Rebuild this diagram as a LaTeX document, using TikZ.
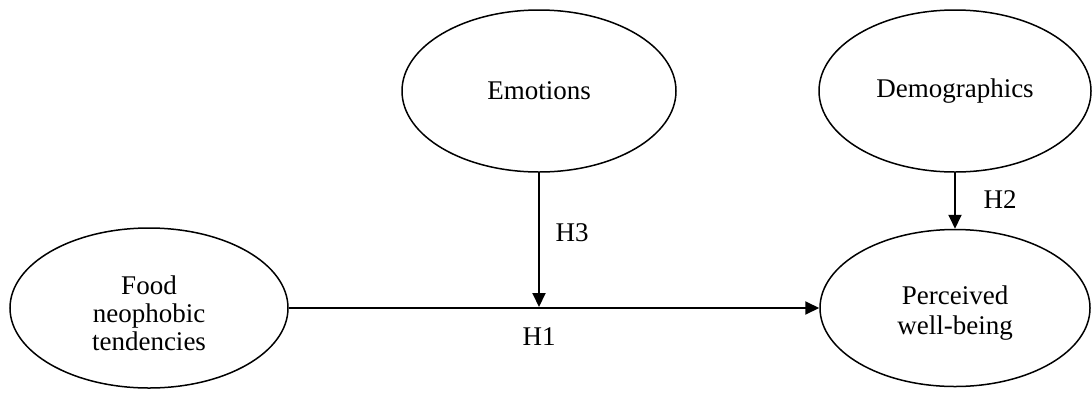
\documentclass[tikz,border=0pt]{standalone}
\usepackage{fontspec}
\setmainfont{Liberation Serif}
\usetikzlibrary{shapes.geometric,arrows.meta}
\newcommand{\lift}{\rule{0pt}{29pt}}
\begin{document}
\begin{tikzpicture}[x=1pt,y=-1pt,
  var/.style={ellipse,draw,line width=1.5pt,inner sep=0pt,align=center,font=\fontsize{27}{28}\selectfont},
  link/.style={line width=1.9pt,-{Triangle[length=14pt,width=13pt]}},
  lab/.style={font=\fontsize{27}{28}\selectfont,inner sep=0pt}]
\useasboundingbox (0,0) rectangle (1092,392);
\node[var,minimum width=274pt,minimum height=162pt] (emo) at (539,91) {Emotions};
\node[var,minimum width=272pt,minimum height=162pt] (demo) at (955,91) {Demographics};
\node[var,minimum width=278pt,minimum height=160pt] (food) at (149,308) {\lift Food\\neophobic\\tendencies};
\node[var,minimum width=270pt,minimum height=157pt] (perc) at (955,308) {\lift Perceived\\[2pt]well-being};
\coordinate (j) at (539,307);
\draw[link] (food.east) -- (perc.west);
\draw[link] (emo.south) -- (j);
\draw[link] (demo.south) -- (perc.north);
\node[lab] (h1) at (539,337) {H1};
\node[lab] (h3) at (572,233) {H3};
\node[lab] (h2) at (1000,200) {H2};
\end{tikzpicture}
\end{document}
